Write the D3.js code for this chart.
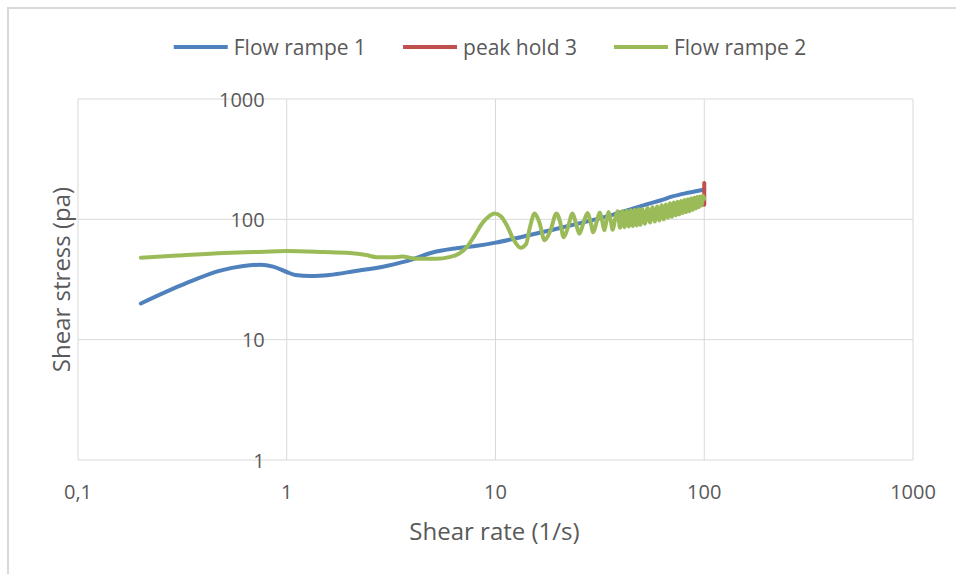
<!DOCTYPE html>
<html>
<head>
<meta charset="utf-8">
<script src="https://cdn.jsdelivr.net/npm/d3@7/dist/d3.min.js"></script>
<style>
  body { margin: 0; background: #fff; }
  text { font-family: "Open Sans", sans-serif; fill: #595959; }
</style>
</head>
<body>
<div id="chart"></div>
<script>
// data (shear rate 1/s, shear stress pa)
var seriesNames = ["Flow rampe 1", "peak hold 3", "Flow rampe 2"];
var seriesColors = ["#4f81bd", "#c0504d", "#9bbb59"];

var rampe1 = [
  [0.2, 20], [0.33, 29.5], [0.48, 37.5], [0.62, 41], [0.75, 42], [0.86, 40.5],
  [1.0, 36.5], [1.1, 34.5], [1.3, 33.8], [1.6, 34.5], [2.1, 37], [3.0, 41],
  [4.0, 46.5], [4.9, 52.5], [6.5, 57.5], [8.0, 60], [10, 64], [14.6, 74],
  [18.8, 82], [25.4, 93], [36.3, 109], [45, 122], [52.9, 133], [62, 144],
  [70.5, 155], [85, 167], [100, 177]
];

var peakHold3 = [
  [100, 176], [100, 195], [100, 200], [100, 190], [100, 170], [100, 150],
  [100, 135], [100, 132], [100, 140]
];

var rampe2 = [
  [0.2, 48], [0.3, 50], [0.5, 52.5], [0.7, 53.5], [1.0, 54.5], [1.5, 53.5],
  [2.0, 52.5], [2.4, 50.5], [2.7, 48.5], [3.2, 48.5], [3.6, 49], [4.0, 47.5],
  [4.5, 47], [5.2, 47], [6.0, 48.5], [6.7, 52], [7.3, 59], [8.0, 75],
  [8.6, 92], [9.3, 106], [9.9, 112], [10.6, 106], [11.3, 90], [12.2, 68],
  [13.2, 58], [14.0, 62], [14.6, 85], [15.4, 112], [16.2, 95], [17.2, 67],
  [18.3, 80], [19.6, 112], [20.4, 95], [21.2, 71], [22.2, 85], [23.4, 112],
  [24.3, 92], [25.2, 76], [26.3, 92], [27.6, 113], [28.5, 96], [29.4, 78],
  [30.5, 95], [31.6, 114], [32.4, 98], [33.2, 81], [34.0, 97], [34.8, 115],
  [35.6, 99], [36.4, 82], [37.4, 100], [38.4, 117],
  [39.5, 85], [40.5, 117], [41.5, 86], [42.5, 118], [43.5, 87], [44.5, 119],
  [45.5, 88], [46.5, 120], [47.5, 89], [48.5, 121], [49.5, 90], [50.5, 122],
  [52, 92], [53.5, 124], [55, 94], [56.5, 126], [58, 96], [59.5, 128],
  [61, 98], [62.5, 131], [64, 100], [65.5, 133], [67, 103], [68.5, 136],
  [70, 105], [71.5, 138], [73, 108], [74.5, 140], [76, 110], [77.5, 142],
  [79, 113], [80.5, 145], [82, 115], [83.5, 147], [85, 117], [86.5, 149],
  [88, 120], [89.5, 151], [91, 123], [92.5, 153], [94, 126], [95.5, 155],
  [97, 130], [98.5, 157], [100, 148]
];

var xTicks = [0.1, 1, 10, 100, 1000];
var xTickLabels = ["0,1", "1", "10", "100", "1000"];
var yTicks = [1, 10, 100, 1000];
var yTickLabels = ["1", "10", "100", "1000"];

var width = 956, height = 574;
var plot = { left: 78, right: 913, top: 99, bottom: 460 };

var svg = d3.select("#chart").append("svg")
  .attr("width", width).attr("height", height);

// outer chart border
svg.append("rect")
  .attr("x", 8).attr("y", 8)
  .attr("width", 980).attr("height", 600)
  .attr("fill", "none").attr("stroke", "#d9d9d9").attr("stroke-width", 2);

var x = d3.scaleLog().domain([0.1, 1000]).range([plot.left, plot.right]);
var y = d3.scaleLog().domain([1, 1000]).range([plot.bottom, plot.top]);

// gridlines
svg.append("g").selectAll("line").data(xTicks).join("line")
  .attr("x1", d => x(d)).attr("x2", d => x(d))
  .attr("y1", plot.top).attr("y2", plot.bottom)
  .attr("stroke", "#d9d9d9").attr("stroke-width", 1);
svg.append("g").selectAll("line").data(yTicks).join("line")
  .attr("x1", plot.left).attr("x2", plot.right)
  .attr("y1", d => y(d)).attr("y2", d => y(d))
  .attr("stroke", "#d9d9d9").attr("stroke-width", 1);

// y labels sit next to the vertical axis which crosses at x = 1
svg.append("g").selectAll("text").data(yTicks).join("text")
  .attr("x", x(1) - 22).attr("y", d => y(d))
  .attr("text-anchor", "end").attr("dominant-baseline", "central")
  .style("font-size", "20px")
  .text((d, i) => yTickLabels[i]);

svg.append("g").selectAll("text").data(xTicks).join("text")
  .attr("x", d => x(d)).attr("y", plot.bottom + 31)
  .attr("text-anchor", "middle").attr("dominant-baseline", "central")
  .style("font-size", "20px")
  .text((d, i) => xTickLabels[i]);

// axis titles
svg.append("text")
  .attr("x", (plot.left + plot.right) / 2 - 1).attr("y", 530)
  .attr("text-anchor", "middle").attr("dominant-baseline", "central")
  .style("font-size", "24px")
  .text("Shear rate (1/s)");

svg.append("text")
  .attr("transform", "translate(60," + ((plot.top + plot.bottom) / 2) + ") rotate(-90)")
  .attr("text-anchor", "middle").attr("dominant-baseline", "central")
  .style("font-size", "24px")
  .text("Shear stress (pa)");

var line = d3.line()
  .x(d => x(d[0])).y(d => y(d[1]))
  .curve(d3.curveMonotoneX);

var allSeries = [rampe1, peakHold3, rampe2];
allSeries.forEach(function(s, i) {
  var path = svg.append("path")
    .datum(s)
    .attr("fill", "none")
    .attr("stroke", seriesColors[i])
    .attr("stroke-width", 4)
    .attr("stroke-linejoin", "round")
    .attr("stroke-linecap", "round");
  if (i == 1) {
    // vertical peak hold, plain polyline
    path.attr("d", d3.line().x(d => x(d[0])).y(d => y(d[1]))(s));
  } else {
    path.attr("d", line(s));
  }
});

// legend
var legend = svg.append("g");
var lx = 0;
seriesNames.forEach(function(name, i) {
  var g = legend.append("g").attr("transform", "translate(" + lx + ",0)");
  g.append("line")
    .attr("x1", 0).attr("x2", 54).attr("y1", 0).attr("y2", 0)
    .attr("stroke", seriesColors[i]).attr("stroke-width", 4);
  var t = g.append("text")
    .attr("x", 60).attr("y", 0)
    .attr("dominant-baseline", "central")
    .style("font-size", "21px")
    .text(name);
  lx += 60 + t.node().getComputedTextLength() + 37;
});
var legendW = lx - 37;
legend.attr("transform", "translate(" + (490 - legendW / 2) + ",47)");
</script>
</body>
</html>
